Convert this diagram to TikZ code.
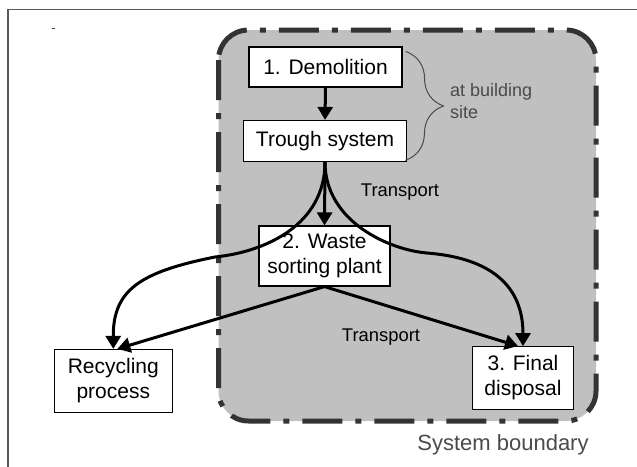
\documentclass[tikz,border=0pt]{standalone}
\usepackage{fontspec}
\setmainfont{Liberation Sans}
\usepackage{tikz}
\usetikzlibrary{arrows.meta, positioning, calc, decorations.pathreplacing}

\definecolor{boundfill}{HTML}{C0C0C0}
\definecolor{bounddark}{HTML}{333333}
\definecolor{notegray}{HTML}{4A4A4A}

\begin{document}
\begin{tikzpicture}[x=0.5pt, y=-0.5pt, >={Triangle[length=6.5pt,width=7.5pt]},
    box/.style={draw, fill=white, line width=0.6pt, inner sep=0pt, align=center, font=\fontsize{10.5}{12.5}\selectfont},
    flow/.style={->, line width=1.5pt},
    lbl/.style={font=\fontsize{9.2}{11}\selectfont}]
    \useasboundingbox (0,0) rectangle (637,466);
    \draw[black!65, line width=0.8pt] (8,470) -- (8,9.5) -- (640,9.5);
    \fill[black!80] (52,27.5) rectangle (54.5,29);

    \draw[bounddark, fill=boundfill, line width=2.5pt, rounded corners=15pt,
        dash pattern=on 20pt off 6.5pt on 3pt off 6.5pt] (218.5,30) rectangle (596,421);

    \node[box, minimum width=76.5pt, minimum height=20pt] (demo) at (325.5,67) {1. Demolition};
    \node[box, minimum width=81.5pt, minimum height=20.5pt] (trough) at (325,141) {Trough system};
    \node[box, minimum width=65.5pt, minimum height=30pt] (sort) at (324.5,256) {2. Waste\\sorting plant};
    \node[box, minimum width=59pt, minimum height=31.5pt] (recyc) at (113.3,381) {Recycling\\process};
    \node[box, minimum width=50.3pt, minimum height=31.3pt] (final) at (523,378) {3. Final\\disposal};

    \draw[flow] (demo.south) -- (trough.north);
    \draw[flow] (trough.south) -- (sort.north);
    \draw[flow] (trough.south) .. controls (325,225) and (265,252) .. (215,257)
        .. controls (140,272) and (113,290) .. (recyc.north);
    \draw[flow] (trough.south) .. controls (325,222) and (390,250) .. (427,253)
        .. controls (490,258) and (523,285) .. (final.north);
    \draw[flow] (sort.south) -- ([xshift=2pt]recyc.north);
    \draw[flow] (sort.south) -- ([xshift=-2.5pt]final.north);

    \node[lbl] (trans1) at (400,192) {Transport};
    \node[lbl] (trans2) at (381,337) {Transport};

    \draw[notegray, line width=0.5pt, decorate, decoration={brace, amplitude=19pt}]
        ($(demo.north east)+(3,5)$) -- ($(trough.south east)+(-1.7,-1.7)$);
    \node[lbl, text=notegray, align=left, anchor=west, font=\fontsize{9}{11.3}\selectfont] (site) at (443,101) {at building\\site};
    \node[text=notegray, font=\fontsize{11}{13}\selectfont] (sysb) at (503,445) {System boundary};
\end{tikzpicture}
\end{document}
